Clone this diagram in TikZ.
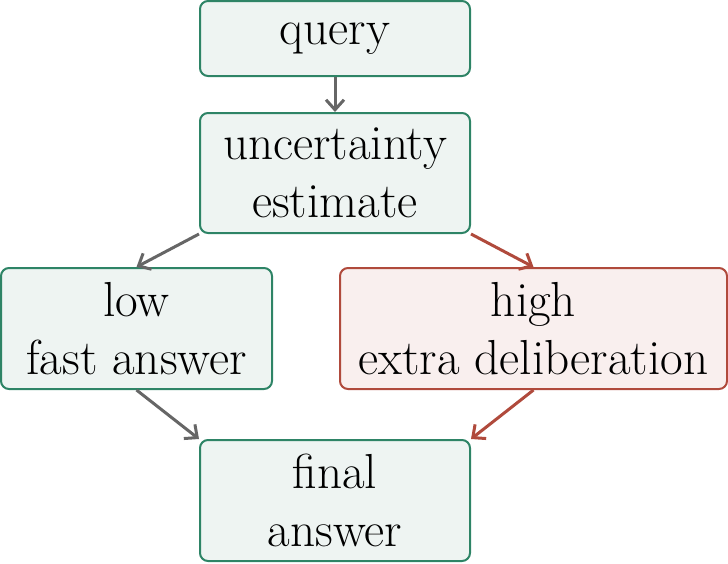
\documentclass[tikz,border=0pt]{standalone}
\usetikzlibrary{arrows.meta}
\definecolor{gborder}{HTML}{2E8466}
\definecolor{gfill}{HTML}{EEF4F2}
\definecolor{rborder}{HTML}{B04A3C}
\definecolor{rfill}{HTML}{F9EFEE}
\definecolor{agray}{HTML}{666666}
\begin{document}
\begin{tikzpicture}[x=0.5pt,y=-0.5pt,
  box/.style={draw=gborder,fill=gfill,line width=1pt,rounded corners=4pt,align=center,
    inner sep=0pt,font=\fontsize{24.6}{29.2}\selectfont},
  redbox/.style={box,draw=rborder,fill=rfill},
  arr/.style={-{Straight Barb[length=5pt,width=9pt]},line width=1.5pt,draw=agray},
  rarr/.style={arr,draw=rborder}]
\useasboundingbox (0,0) rectangle (728,563);
\node[box,minimum width=135pt,minimum height=37.5pt] (q) at (335,38.5) {query};
\node[box,minimum width=135pt,minimum height=60pt] (u) at (335,173) {uncertainty\\estimate};
\node[box,minimum width=135.5pt,minimum height=60.5pt] (l) at (136.5,328.5) {low\\fast answer};
\node[redbox,minimum width=193.5pt,minimum height=60.5pt] (h) at (533.5,328.5) {high\\extra deliberation};
\node[box,minimum width=135pt,minimum height=60.5pt] (f) at (335,500.5) {final\\answer};
\draw[arr] (q) -- (u);
\draw[arr] (u.south west) -- (l.north);
\draw[rarr] (u.south east) -- (h.north);
\draw[arr] (l.south) -- (f.north west);
\draw[rarr] (h.south) -- (f.north east);
\end{tikzpicture}
\end{document}
